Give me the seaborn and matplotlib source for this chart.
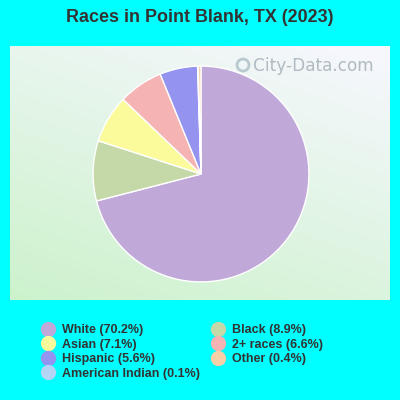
import numpy as np
import matplotlib
matplotlib.use("Agg")
import matplotlib.pyplot as plt
from matplotlib.lines import Line2D
from matplotlib.patches import Circle
import seaborn as sns

categories = ["White", "Black", "Asian", "2+ races", "Hispanic", "American Indian", "Other"]
values = [70.2, 8.9, 7.1, 6.6, 5.6, 0.1, 0.4]
colors_hex = ["#c0a9d9", "#c5d8a8", "#fbfb9b", "#f5b3b3", "#9494f0", "#b5d5f5", "#f8d0a8"]
legend_order = ["White", "Asian", "Hispanic", "American Indian", "Black", "2+ races", "Other"]
title = "Races in Point Blank, TX (2023)"

sns.set_style("white")
plt.rcParams['font.family'] = ['Liberation Sans', 'DejaVu Sans']
palette = sns.color_palette(colors_hex)

fig = plt.figure(figsize=(4, 4), dpi=100)
fig.patch.set_facecolor("#00ffff")

# gradient background panel
bg = fig.add_axes([10/400, 1-300/400, 380/400, 254/400])
h, w = 100, 150
yy, xx = np.mgrid[0:1:h*1j, 0:1:w*1j]
t = np.clip(0.65*yy + 0.35*(1-xx), 0, 1)  # 0 at top-right, 1 at bottom-left
top = np.array([0.97, 0.97, 1.0])
bot = np.array([0.80, 0.95, 0.80])
img = top[None, None, :]*(1-t[..., None]) + bot[None, None, :]*t[..., None]
bg.imshow(img, aspect="auto", extent=[0, 1, 0, 1], origin="upper")
bg.set_axis_off()

# watermark
fig.text(253/400, 1-66/400, "City-Data.com", fontsize=12.2, color="#a9b4bc",
         ha="left", va="center", alpha=0.9, family="DejaVu Sans")
fig.patches.append(Circle((243/400, 1-65/400), 6/400, transform=fig.transFigure,
                          facecolor="none", edgecolor="#b4c4cc", linewidth=2, alpha=0.9))

# pie
ax = fig.add_axes([(201-109)/400, 1-(174+109)/400, 218/400, 218/400])
ax.pie(values, colors=palette, startangle=90, counterclock=False,
       wedgeprops=dict(edgecolor="white", linewidth=1))
ax.set_xlim(-1.01, 1.01)
ax.set_ylim(-1.01, 1.01)
ax.set_aspect("equal")
ax.set_axis_off()

fig.text(0.5, 1-18/400, title, ha="center", va="center", fontsize=12.9,
         fontweight="bold", color="#333333")

cmap = dict(zip(categories, palette))
vmap = dict(zip(categories, values))
handles = [Line2D([0], [0], marker="o", linestyle="", markersize=10,
                  markerfacecolor=cmap[c], markeredgecolor=cmap[c]) for c in legend_order]
labels = [f"{c} ({vmap[c]}%)" for c in legend_order]
leg = fig.legend(handles, labels, ncol=2, loc="upper left",
                 bbox_to_anchor=(34/400, 1-318/400), frameon=False,
                 prop=dict(size=9, weight="bold"), labelcolor="#333333",
                 handletextpad=0.5, columnspacing=0.9, labelspacing=0.2,
                 borderpad=0, handlelength=1.2)

fig.savefig("out.png", dpi=100, facecolor=fig.get_facecolor())
